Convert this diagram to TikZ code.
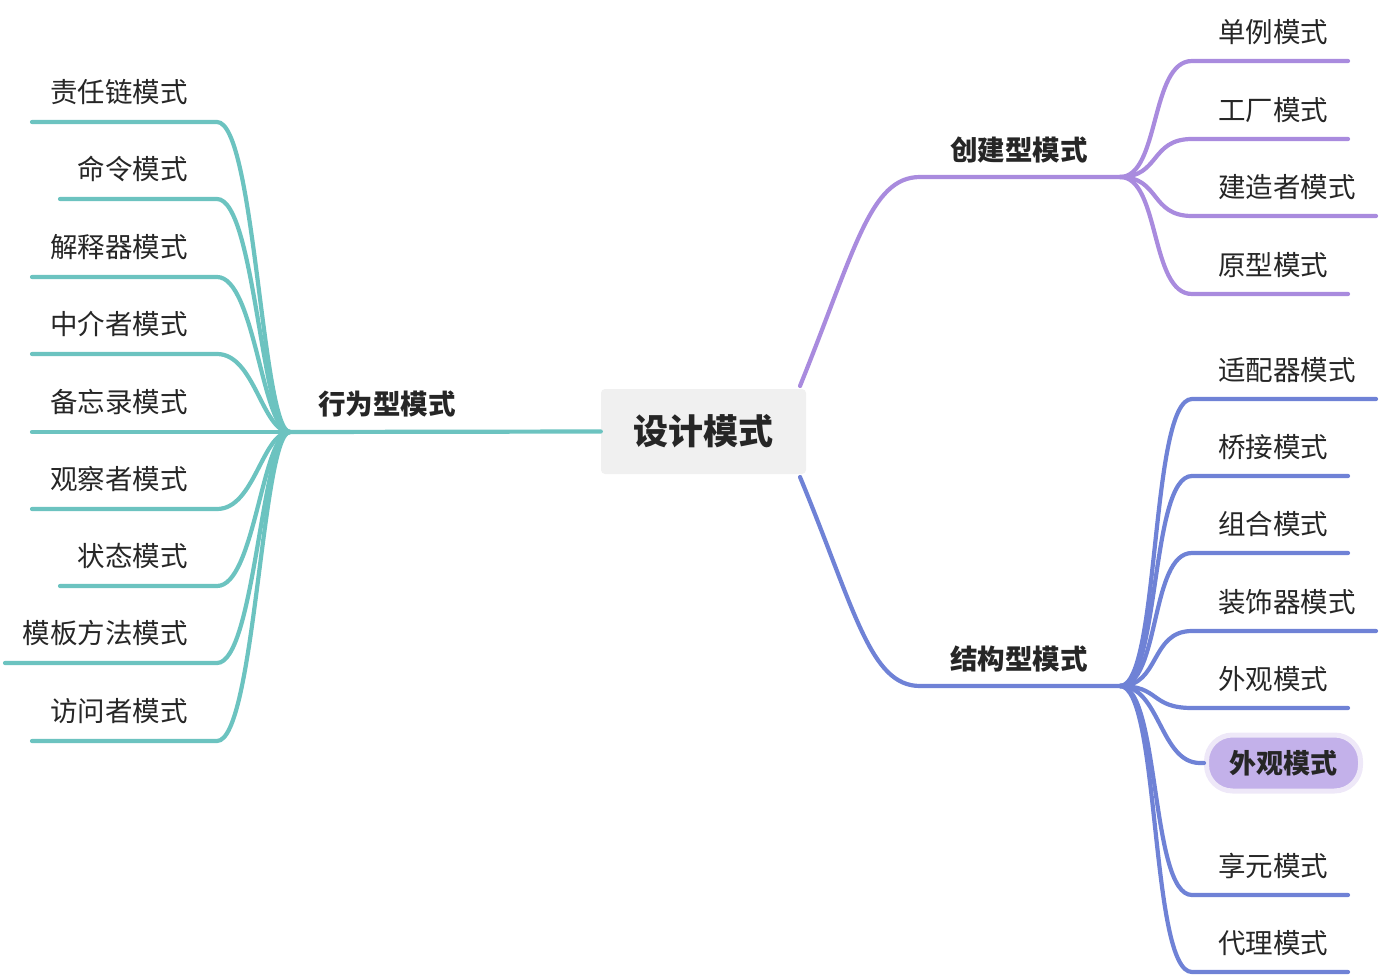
\documentclass[tikz,border=0pt]{standalone}
\usepackage{fontspec}
\setmainfont{Noto Sans CJK SC}
\begin{document}
\begin{tikzpicture}[x=1pt,y=-1pt,
  leaf/.style={font=\fontsize{27.5}{27.5}\selectfont, text=black!85, inner sep=0pt},
  br/.style={font=\bfseries\fontsize{27.5}{27.5}\selectfont, text=black!85, inner sep=0pt},
  ln/.style={line width=4.2pt, line cap=round}]
\definecolor{teal1}{HTML}{6CC3C0}
\definecolor{pur1}{HTML}{A98BDE}
\definecolor{blu1}{HTML}{6F82D6}
\useasboundingbox (0,0) rectangle (1380,976);
\node[fill=black!6, rounded corners=4pt, minimum width=205, minimum height=85, font=\bfseries\fontsize{35}{35}\selectfont, text=black!85] (c) at (703.5,431.5) {设计模式};
% left branch
\coordinate (LJ) at (290,432);
\draw[ln, teal1] (c.west) -- (LJ);
\node[br, anchor=south west] (lb) at (318,417) {行为型模式};
\foreach \t/\y/\xs [count=\i] in {责任链模式/122/32, 命令模式/199/60, 解释器模式/277/32, 中介者模式/354/32, 备忘录模式/432/32, 观察者模式/509/32, 状态模式/586/60, 模板方法模式/663/5, 访问者模式/741/32}{
  \coordinate (La\i) at (217,\y);
  \coordinate (Lb\i) at (\xs,\y);
  \node[leaf, anchor=east] (lt\i) at (188,\y-30) {\t};
  \draw[ln, teal1] (LJ) .. controls (262,432) and (255,\y) .. (La\i) -- (Lb\i);
}
% creational
\coordinate (PJ) at (1120,177);
\coordinate (PS) at (920,177);
\draw[ln, pur1] (800,386) .. controls (855,250) and (870,177) .. (PS) -- (PJ);
\node[br, anchor=south west] (pb) at (950,163) {创建型模式};
\foreach \t/\y/\xe [count=\i] in {单例模式/61/1348, 工厂模式/139/1348, 建造者模式/216/1376, 原型模式/294/1348}{
  \coordinate (Pa\i) at (1192,\y);
  \coordinate (Pb\i) at (\xe,\y);
  \node[leaf, anchor=west] (pt\i) at (1218,\y-29) {\t};
  \draw[ln, pur1] (PJ) .. controls (1160,177) and (1150,\y) .. (Pa\i) -- (Pb\i);
}
% structural
\coordinate (BJ) at (1120,686);
\coordinate (BS) at (920,686);
\draw[ln, blu1] (800,477) .. controls (855,610) and (870,686) .. (BS) -- (BJ);
\node[br, anchor=south west] (bb) at (950,672) {结构型模式};
\foreach \t/\y/\xe [count=\i] in {适配器模式/399/1376, 桥接模式/476/1348, 组合模式/553/1348, 装饰器模式/631/1376, 外观模式/708/1348, 享元模式/895/1348, 代理模式/972/1348}{
  \coordinate (Ba\i) at (1192,\y);
  \coordinate (Bb\i) at (\xe,\y);
  \node[leaf, anchor=west] (bt\i) at (1218,\y-29) {\t};
  \draw[ln, blu1] (BJ) .. controls (1160,686) and (1150,\y) .. (Ba\i) -- (Bb\i);
}
\node[draw=pur1!20, line width=5pt, fill={rgb,255:red,195;green,177;blue,234}, rounded corners=26pt, minimum width=154, minimum height=56, font=\bfseries\fontsize{27}{27}\selectfont, text=black!85] (hl) at (1283.5,763) {外观模式};
\draw[ln, blu1] (BJ) .. controls (1160,686) and (1160,763) .. (1200,763) -- (hl.west);
\end{tikzpicture}
\end{document}
